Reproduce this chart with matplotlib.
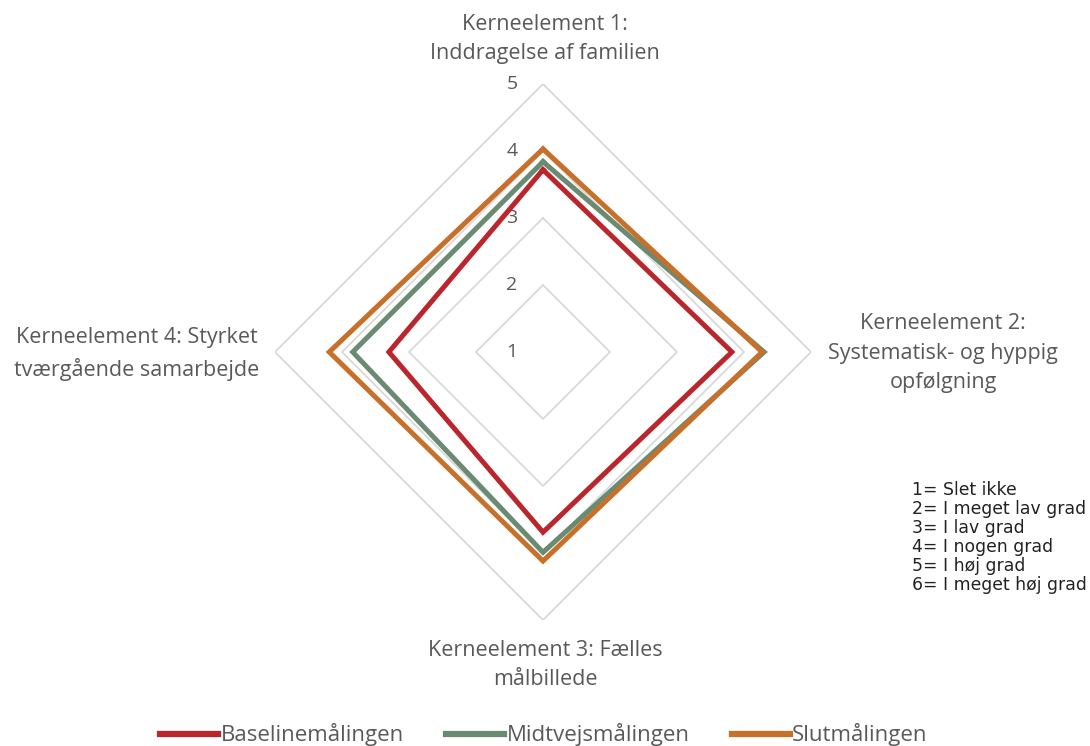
import numpy as np
import matplotlib
matplotlib.use("Agg")
import matplotlib.pyplot as plt
from matplotlib import transforms

categories = ["Kerneelement 1:\nInddragelse af familien",
              "Kerneelement 2:\nSystematisk- og hyppig\nopfølgning",
              "Kerneelement 3: Fælles\nmålbillede",
              "Kerneelement 4: Styrket\ntværgående samarbejde"]
series_names = ["Baselinemålingen", "Midtvejsmålingen", "Slutmålingen"]
baseline = [3.72, 3.82, 3.69, 3.30]
midtvejs = [3.84, 4.30, 3.99, 3.84]
slut = [4.03, 4.27, 4.12, 4.19]
rticks = [1, 2, 3, 4, 5]
scale_notes = ["1= Slet ikke", "2= I meget lav grad", "3= I lav grad",
               "4= I nogen grad", "5= I høj grad", "6= I meget høj grad"]

colors = ["#BA262C", "#6A8A72", "#C8702A"]
txt = "#595959"
font = "Open Sans"

fig = plt.figure(figsize=(10.9, 7.46), dpi=100)
ax = fig.add_axes([275/1090, 126/746, 536/1090, 536/746], projection="polar")
ax.set_theta_offset(np.pi/2)
ax.set_theta_direction(-1)
ax.set_ylim(1, 5)
ax.grid(False)
ax.spines["polar"].set_visible(False)
ax.set_xticks([])
ax.set_yticks([])
ax.patch.set_alpha(0)

n = len(categories)
ang = np.linspace(0, 2*np.pi, n, endpoint=False)
ang_c = np.append(ang, ang[0])

for lv in rticks[1:]:
    ax.plot(ang_c, [lv]*(n+1), color="#D9D9D9", lw=1.3, zorder=1)

off = transforms.offset_copy(ax.transData, fig=fig, x=-31, y=0, units="dots")
for lv in rticks:
    ax.text(0, lv, str(lv), transform=off, ha="center", va="center",
            fontsize=14, color=txt, family=font, zorder=2)

for vals, name, c in zip([baseline, midtvejs, slut], series_names, colors):
    v = list(vals) + [vals[0]]
    ax.plot(ang_c, v, color=c, lw=3.6, label=name, zorder=3,
            solid_joinstyle="miter")

# category labels
lab_kw = dict(ha="center", va="center", fontsize=15.5, color=txt,
              family=font, linespacing=1.53)
fig.text(545/1090, 1-39/746, categories[0], **lab_kw)
fig.text(943/1090, 1-353/746, categories[1], **lab_kw)
fig.text(545/1090, 1-665/746, categories[2], **lab_kw)
fig.text(137/1090, 1-354/746, categories[3], **lab_kw)

for i, s in enumerate(scale_notes):
    fig.text(912/1090, 1-(490+19*i)/746, s, ha="left", va="center",
             fontsize=12.4, color="#222222", family="DejaVu Sans")

leg = fig.legend(loc="center", bbox_to_anchor=(544/1090, 1-735/746), ncol=3,
                 frameon=False, handlelength=2.6, handletextpad=0.12,
                 columnspacing=1.9, prop={"family": font, "size": 16})
for t in leg.get_texts():
    t.set_color(txt)
for h in leg.get_lines():
    h.set_linewidth(4.5)

fig.savefig("out.png", dpi=100)
